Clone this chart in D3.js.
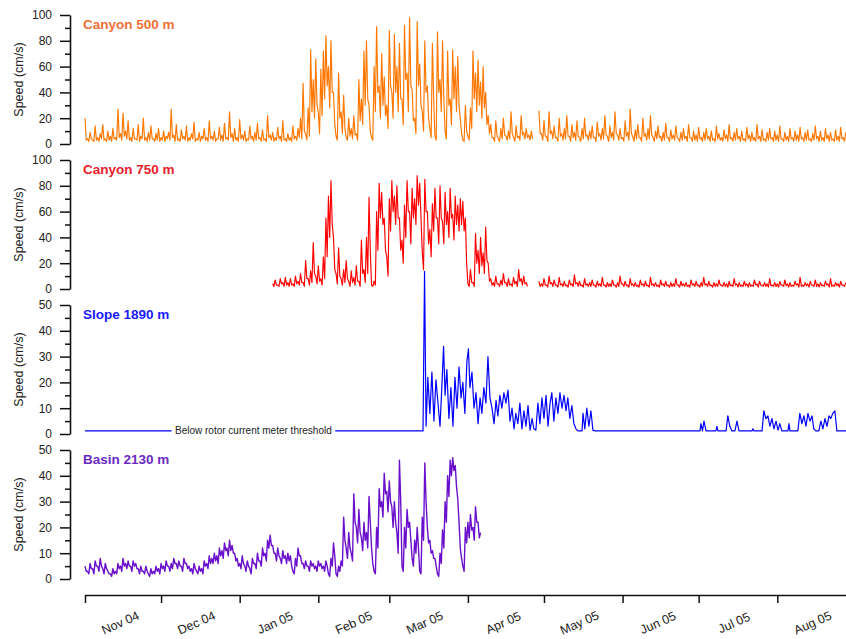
<!DOCTYPE html>
<html><head><meta charset="utf-8">
<script src="https://cdn.jsdelivr.net/npm/d3@7"></script>
<style>body{margin:0;background:#fff}svg{display:block}</style>
</head><body>
<svg id="c" width="846" height="639"></svg>
<script>
// ---------------- DATA ----------------
const startYear = 2004, startMonth = 10; // 1 Nov 2004 (UTC)
const monthLabels = ["Nov 04","Dec 04","Jan 05","Feb 05","Mar 05","Apr 05","May 05","Jun 05","Jul 05","Aug 05"];
const panelTitles = ["Canyon 500 m","Canyon 750 m","Slope 1890 m","Basin 2130 m"];
const yAxisLabel = "Speed (cm/s)";
const thresholdLabel = "Below rotor current meter threshold";
const yMaxes = [100, 100, 50, 50];
const yMajorSteps = [20, 20, 10, 10];

// daily peak speeds (cm/s) at day d, and intervening lows at day d + 0.5; day 0 = 1 Nov 2004
const canyon500Start = 0;
const canyon500 = [
 20,4,9,3,14,5,8,15,4,10,
 6,12,5,27,8,24,10,18,5,12,
 4,15,6,20,5,9,14,4,8,12,
 5,10,6,9,27,7,15,4,11,6,
 14,5,8,17,4,9,6,12,5,18,
 6,10,4,13,7,16,5,25,8,12,
 5,19,7,10,4,14,6,9,16,5,
 11,4,22,7,9,5,13,6,18,4,
 8,5,14,6,12,20,47,8,28,73,
 50,66,25,58,72,84,60,80,40,6,
 55,25,38,5,20,12,22,8,50,35,
 72,80,30,5,60,91,45,70,52,30,
 88,40,85,60,78,35,92,55,98,42,
 20,95,62,25,80,45,12,78,6,87,
 50,80,10,72,35,73,60,68,20,3,
 30,6,28,72,55,65,48,60,40,22,
 15,5,18,4,12,20,6,10,25,5,
 14,6,22,9,12,7,10,null,null,26,
 8,18,6,25,10,14,5,20,8,12,
 22,6,15,9,18,5,12,20,7,10,
 14,5,17,8,12,22,6,14,9,25,
 7,12,5,18,9,27,6,11,15,5,
 20,8,12,22,5,10,14,6,9,16,
 5,11,7,14,4,9,12,6,15,5,
 10,7,13,5,9,12,6,10,4,14,
 8,5,11,7,15,5,9,12,6,10,
 4,13,7,9,5,15,6,11,4,9,
 12,5,10,7,14,4,9,6,12,5,
 10,7,13,5,9,11,4,8,14,6,
 10,5,12,7,9,4,11,6,13,5,
 9
];
const canyon500Low = [
 3,2,4,2,3,2,4,3,2,3,
 2,4,3,5,3,6,4,3,2,4,
 3,2,4,3,2,3,4,2,3,2,
 3,2,4,3,5,2,3,2,4,3,
 2,3,4,2,3,2,4,3,2,4,
 3,2,4,3,2,4,3,5,2,3,
 2,4,3,2,3,4,2,3,4,2,
 3,2,5,3,2,3,4,2,3,2,
 3,2,4,3,5,4,10,3,6,25,
 20,30,8,22,35,45,28,40,15,3,
 20,8,12,3,6,4,7,3,18,15,
 30,35,10,3,25,40,20,30,22,12,
 45,20,40,25,35,15,50,25,45,18,
 8,45,30,10,40,20,5,35,3,40,
 25,35,4,30,15,35,25,30,8,2,
 10,3,12,35,25,30,20,28,15,8,
 5,2,6,2,4,7,3,4,8,2,
 5,3,7,4,5,3,4,null,null,8,
 3,6,2,8,4,5,2,6,3,4,
 6,2,5,3,6,2,4,6,3,4,
 5,2,6,3,4,7,2,5,3,8,
 3,4,2,6,3,8,2,4,5,2,
 6,3,4,7,2,4,5,2,3,5,
 2,4,3,5,2,3,4,2,5,2,
 3,2,4,2,3,4,2,3,2,4,
 3,2,4,2,4,2,3,4,2,3,
 2,4,2,3,2,4,2,3,2,3,
 4,2,3,2,4,2,3,2,4,2,
 3,2,4,2,3,3,2,3,4,2,
 3,2,4,2,3,2,3,2,4,2
];

const canyon750Start = 74;
const canyon750 = [
 4,7,3,8,5,9,
 5,8,4,10,6,12,5,22,8,14,
 36,10,18,8,25,55,72,84,40,12,
 32,8,15,22,6,14,9,18,6,38,
 15,40,71,3,6,60,82,75,55,25,
 70,84,72,80,55,38,65,84,60,78,
 70,88,82,29,85,60,46,66,78,55,
 80,52,75,60,78,58,72,65,70,68,
 55,4,15,5,43,30,40,28,48,20,
 8,5,10,4,7,12,5,8,4,9,
 6,15,8,10,5,null,null,null,null,6,
 4,8,3,10,5,7,3,9,4,6,
 3,7,4,11,5,6,3,8,4,5,
 7,3,6,4,9,3,5,4,7,3,
 5,10,4,6,3,8,4,5,3,7,
 4,6,3,9,4,5,3,7,4,6,
 3,5,4,8,3,6,4,5,3,7,
 4,6,3,5,9,4,6,3,5,4,
 7,3,5,4,6,3,8,4,5,3,
 6,4,5,3,7,4,6,3,5,4,
 8,3,5,4,6,3,7,4,5,3,
 6,4,9,3,5,4,6,3,7,4,
 5,3,6,4,8,3,5,4,6,3,
 5
];
const canyon750Low = [
 2,3,2,4,2,3,
 2,3,2,4,3,5,2,8,3,5,
 12,4,6,3,8,25,40,50,15,4,
 10,3,5,8,2,5,3,6,2,12,
 5,12,30,2,3,30,55,50,30,10,
 45,60,50,55,30,20,40,60,35,55,
 50,65,55,15,60,35,25,45,55,35,
 55,35,50,40,55,38,50,45,50,45,
 20,2,5,2,20,12,18,12,22,6,
 3,2,4,2,3,5,2,3,2,4,
 2,6,3,4,2,null,null,null,null,2,
 2,3,1.5,4,2,3,1.5,3,2,2.5,
 1.5,3,2,4,2,2.5,1.5,3,2,2,
 3,1.5,2.5,2,3,1.5,2,2,3,1.5,
 2,4,2,2.5,1.5,3,2,2,1.5,3,
 2,2.5,1.5,3,2,2,1.5,3,2,2.5,
 1.5,2,2,3,1.5,2.5,2,2,1.5,3,
 2,2.5,1.5,2,3,2,2.5,1.5,2,2,
 3,2,2,1.5,2.5,2,3,1.5,2,2,
 2.5,1.5,2,2,3,1.5,3,2,2,1.5,
 2.5,2,2,1.5,3,2,2.5,1.5,2,2,
 3,1.5,2,2,2.5,1.5,3,2,2,1.5,
 2.5,2,3,1.5,2,2,2.5,1.5,3,2
];

// Slope 1890 m: irregular samples (day offset, speed)
const slopeDays = [
 0,133.3,133.9,134.5,135.2,136.0,136.8,137.6,138.4,139.2,140.0,
 140.8,141.4,142.0,142.7,143.5,144.3,145.1,145.9,146.7,147.5,
 148.3,149.0,149.8,150.6,151.2,151.8,152.6,153.4,154.2,155.0,
 155.8,156.5,157.3,158.1,158.9,159.7,160.5,161.3,162.1,162.8,
 163.6,164.4,165.2,166.0,166.8,167.6,168.4,169.2,169.9,170.7,
 171.5,172.3,173.1,173.9,174.7,175.5,176.3,177.0,177.8,178.6,
 179.4,180.2,181.0,181.8,182.6,183.4,184.1,184.9,185.7,186.5,
 187.3,188.1,188.9,189.7,190.4,191.2,192.0,192.8,193.6,194.4,
 196.0,196.4,197.1,197.9,198.7,199.5,200.3,201.1,
 242.5,242.9,243.5,244.1,244.9,
 248.8,249.2,249.6,
 252.8,253.5,254.3,255.1,
 256.3,257.1,257.9,
 263.0,263.4,263.8,
 267.0,267.7,268.5,269.3,270.1,270.9,271.7,272.5,273.3,274.0,274.8,
 277.2,277.6,278.0,
 281.1,281.9,282.7,283.5,284.3,285.1,285.9,286.7,287.4,288.2,
 289.4,290.2,291.0,291.8,292.6,293.4,294.1,294.9,295.7,296.5,
 300.1
];
const slopeValues = [
 1.2,1.2,63,3,22,8,24,5,21,12,3,
 20,34,15,25,6,18,3,22,10,26,
 14,20,8,28,33,18,24,10,16,4,
 14,8,18,12,30,14,10,4,13,7,
 15,10,16,12,17,5,10,2,8,4,
 12,2,9,3,11,1.5,6,2,1.5,12,
 4,14,6,15,3,12,16,5,14,8,
 16,10,15,9,14,6,11,4,2,1.2,
 1.2,8,2,10,3,9,1.5,1.2,
 1.2,4,1.2,5,1.2,
 1.2,3,1.2,
 1.2,7,3,1.2,
 1.2,5,1.2,
 1.2,2,1.2,
 1.2,9,6,7,3,6,2,5,1.5,4,1.2,
 1.2,4,1.2,
 1.2,8,4,7,3,8,5,7,2,1.2,
 1.2,5,2,6,3,7,6,8,9,1.2,
 1.2
];

const basinStart = 0;
const basin = [
 5,3,6,4,7,5,8,4,6,3,
 2,4,3,6,5,8,6,7,5,7,
 6,4,5,3,5,2,4,3,5,4,
 6,5,7,5,6,8,6,7,5,8,
 6,5,4,6,3,5,4,7,6,9,
 8,10,9,12,11,14,12,15,13,10,
 8,6,9,5,7,4,8,6,10,7,
 12,10,15,17,13,10,12,8,11,9,
 10,9,3,8,12,9,6,7,5,7,
 6,5,7,6,5,7,2,8,14,2,
 5,7,24,12,18,10,33,20,27,16,
 22,18,32,12,3,20,35,30,41,34,
 38,28,30,18,46,5,20,27,22,8,
 15,20,3,24,45,20,15,11,8,2,
 10,19,30,40,46,47,44,31,12,5,
 20,22,25,20,28,22,18
];
const basinLow = [
 3,2,4,2,5,3,5,2,4,2,
 1,2,2,4,3,5,4,5,3,5,
 4,2,3,2,3,1,2,2,3,2,
 4,3,5,3,4,6,4,5,3,6,
 4,3,2,4,2,3,2,5,4,6,
 6,7,6,9,8,11,9,11,10,7,
 5,4,6,3,5,2,6,4,7,5,
 9,7,12,13,10,7,9,6,8,6,
 7,5,2,5,9,6,4,5,3,5,
 4,3,5,4,3,5,1,5,9,1,
 3,5,15,8,12,7,22,14,18,11,
 15,12,22,6,2,12,28,24,33,26,
 30,20,22,10,30,3,12,20,15,5,
 10,12,2,15,30,14,10,8,5,1,
 6,12,22,32,40,42,36,22,8,3,
 14,16,19,15,22,16
];

// ---------------- CHART ----------------
const DAY = 86400000;
const t0 = Date.UTC(startYear, startMonth, 1);
const dayToDate = d => new Date(t0 + d * DAY);
const FONT = "'Liberation Sans', Arial, Helvetica, sans-serif";

const svg = d3.select("#c");
const axisX = 70, plotL = 85, plotR = 846;
const panelTops = [15, 160, 305, 450], panelH = 129;
const xAxisY = 595;

const x = d3.scaleUtc().domain([dayToDate(0), dayToDate(300.1)]).range([plotL, plotR]);

// interleave daily peaks and half-day lows
const hiLo = (hi, lo, start) => {
  const out = [];
  hi.forEach((v, i) => {
    out.push({t: dayToDate(start + i), v});
    if (i < lo.length) out.push({t: dayToDate(start + i + 0.5), v: lo[i]});
  });
  return out;
};
const seriesList = [
  {title: panelTitles[0], line: "#ff7700", tcol: "#f07035", w: 1.15, pts: hiLo(canyon500, canyon500Low, canyon500Start)},
  {title: panelTitles[1], line: "#ff0000", tcol: "#e8202c", w: 1.15, pts: hiLo(canyon750, canyon750Low, canyon750Start)},
  {title: panelTitles[2], line: "#0000ff", tcol: "#1a1aff", w: 1.2, pts: slopeDays.map((d, i) => ({t: dayToDate(d), v: slopeValues[i]}))},
  {title: panelTitles[3], line: "#6a10cc", tcol: "#6a2ac4", w: 1.4, pts: hiLo(basin, basinLow, basinStart)}
];

seriesList.forEach((s, k) => {
  const top = panelTops[k], bot = top + panelH;
  const y = d3.scaleLinear().domain([0, yMaxes[k]]).range([bot, top]);
  const g = svg.append("g");
  const step = yMajorSteps[k];

  const minor = g.append("g").attr("transform", `translate(${axisX},0)`)
    .call(d3.axisLeft(y).tickValues(d3.range(step / 2, yMaxes[k], step)).tickSize(5).tickFormat(""));
  minor.select(".domain").remove();
  const major = g.append("g").attr("transform", `translate(${axisX},0)`)
    .call(d3.axisLeft(y).tickValues(d3.range(0, yMaxes[k] + 0.001, step)).tickSize(10).tickSizeOuter(0).tickPadding(8));
  [minor, major].forEach(a => {
    a.selectAll("line").attr("stroke", "#111").attr("stroke-width", 1.5);
    a.selectAll(".domain").attr("stroke", "#111").attr("stroke-width", 1.6);
    a.selectAll("text").attr("font-family", FONT).attr("font-size", 12).attr("fill", "#222");
  });

  g.append("text").attr("transform", `translate(19,${(top + bot) / 2}) rotate(-90)`)
    .attr("text-anchor", "middle").attr("dominant-baseline", "central")
    .attr("font-family", FONT).attr("font-size", 12.5).attr("fill", "#222").text(yAxisLabel);

  const line = d3.line().defined(d => d.v != null).x(d => x(d.t)).y(d => y(d.v));
  g.append("path").datum(s.pts).attr("d", line).attr("fill", "none")
    .attr("stroke", s.line).attr("stroke-width", s.w).attr("stroke-linejoin", "round");

  if (k === 2) {
    const lbl = g.append("text").attr("x", x(dayToDate(35.5))).attr("y", y(1.2))
      .attr("dominant-baseline", "central").attr("font-family", FONT).attr("font-size", 10)
      .attr("fill", "#222").text(thresholdLabel);
    const bb = lbl.node().getBBox();
    g.append("rect").attr("x", bb.x - 3.5).attr("y", bb.y - 1)
      .attr("width", bb.width + 7).attr("height", bb.height + 2).attr("fill", "#fff");
    lbl.raise();
  }

  g.append("text").attr("x", 83).attr("y", top + 14)
    .attr("font-family", FONT).attr("font-size", 13.5).attr("font-weight", "bold")
    .attr("fill", s.tcol).text(s.title);
});

const xa = svg.append("g").attr("transform", `translate(0,${xAxisY})`)
  .call(d3.axisBottom(x).ticks(d3.utcMonth.every(1)).tickSize(8).tickSizeOuter(0).tickFormat(""));
xa.selectAll("line").attr("stroke", "#111").attr("stroke-width", 1.5);
xa.select(".domain").attr("stroke", "#111").attr("stroke-width", 1.6);

monthLabels.forEach((lab, i) => {
  const mid = new Date(Date.UTC(startYear, startMonth + i, 15));
  svg.append("text").attr("transform", `translate(${x(mid)},623) rotate(-24)`)
    .attr("text-anchor", "middle").attr("dominant-baseline", "central")
    .attr("font-family", FONT).attr("font-size", 12.5).attr("fill", "#222").text(lab);
});
</script>
</body></html>
